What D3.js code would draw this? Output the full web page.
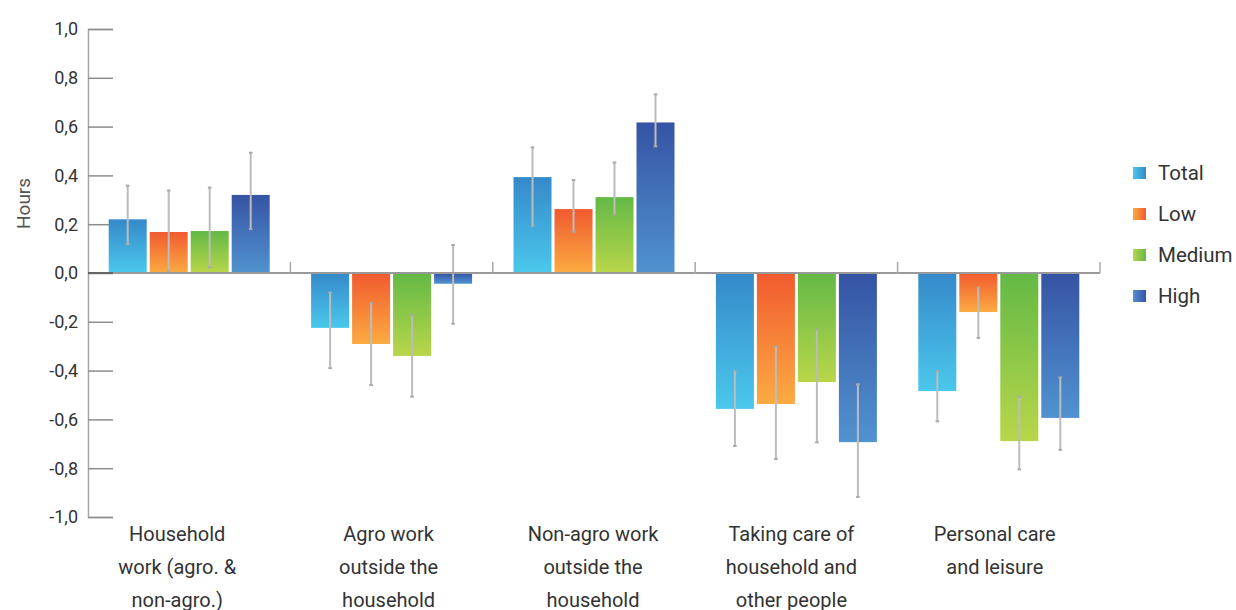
<!DOCTYPE html>
<html>
<head>
<meta charset="utf-8">
<script src="https://cdn.jsdelivr.net/npm/d3@7"></script>
<style>
  html, body { margin: 0; padding: 0; background: #fff; }
  svg { display: block; font-family: Roboto, "Noto Sans", sans-serif; }
</style>
</head>
<body>
<svg id="chart" width="1236" height="610"></svg>
<script>
// Change in hours per activity, by group
const categories = [
  ["Household", "work (agro. &", "non-agro.)"],
  ["Agro work", "outside the", "household"],
  ["Non-agro work", "outside the", "household"],
  ["Taking care of", "household and", "other people"],
  ["Personal care", "and leisure"]
];
const seriesNames = ["Total", "Low", "Medium", "High"];

const totalValues  = [0.22, -0.225, 0.393, -0.557, -0.484];
const lowValues    = [0.168, -0.291, 0.262, -0.537, -0.16];
const mediumValues = [0.172, -0.34, 0.311, -0.447, -0.689];
const highValues   = [0.32, -0.044, 0.617, -0.693, -0.594];

// Confidence interval bounds (lower / upper)
const totalLow   = [0.118, -0.39, 0.193, -0.709, -0.608];
const totalHigh  = [0.358, -0.08, 0.515, -0.402, -0.402];
const lowLow     = [0.009, -0.459, 0.169, -0.762, -0.266];
const lowHigh    = [0.338, -0.124, 0.381, -0.30, -0.06];
const mediumLow  = [0.023, -0.507, 0.24, -0.694, -0.805];
const mediumHigh = [0.35, -0.172, 0.453, -0.232, -0.507];
const highLow    = [0.18, -0.208, 0.519, -0.918, -0.725];
const highHigh   = [0.493, 0.115, 0.732, -0.456, -0.428];

const yTicks = [1.0, 0.8, 0.6, 0.4, 0.2, 0.0, -0.2, -0.4, -0.6, -0.8, -1.0];

const seriesValues = [totalValues, lowValues, mediumValues, highValues];
const seriesLow = [totalLow, lowLow, mediumLow, highLow];
const seriesHigh = [totalHigh, lowHigh, mediumHigh, highHigh];

// Gradient stops: dark end, light end
const gradients = [
  ["#3589c9", "#4bc8ec"],
  ["#f15a2f", "#fbab42"],
  ["#63b946", "#b9d64a"],
  ["#3653a4", "#5093cf"]
];

// Horizontal nudge of each category label from its band centre
const labelShift = [-12, -3, -1, -5, -4];

const svg = d3.select("#chart");
const defs = svg.append("defs");

gradients.forEach((g, i) => {
  const v = defs.append("linearGradient").attr("id", "bar" + i)
    .attr("x1", 0).attr("y1", 0).attr("x2", 0).attr("y2", 1);
  v.append("stop").attr("offset", "0%").attr("stop-color", g[0]);
  v.append("stop").attr("offset", "100%").attr("stop-color", g[1]);
  const h = defs.append("linearGradient").attr("id", "sw" + i)
    .attr("x1", 0).attr("y1", 0).attr("x2", 1).attr("y2", 0);
  h.append("stop").attr("offset", "0%").attr("stop-color", g[1]);
  h.append("stop").attr("offset", "100%").attr("stop-color", g[0]);
});

const plotLeft = 88, plotRight = 1100, plotTop = 29, plotBottom = 517;

const y = d3.scaleLinear().domain([-1, 1]).range([plotBottom, plotTop]);
const x0 = d3.scaleBand().domain(d3.range(categories.length)).range([plotLeft, plotRight]).padding(0);
const x1 = d3.scaleBand().domain(d3.range(seriesNames.length))
  .range([0, x0.bandwidth()]).paddingInner(0.073).paddingOuter(0.505);

// Y axis
const yAxis = d3.axisRight(y).tickValues(yTicks).tickSize(25).tickFormat("");
const yg = svg.append("g").attr("transform", `translate(${plotLeft},0)`).call(yAxis);
yg.select(".domain").attr("stroke", "#a8a8a8").attr("stroke-width", 1.5);
yg.selectAll(".tick line").attr("stroke", "#8c8c8c").attr("stroke-width", 1.5);

const fmt = v => d3.format(".1f")(v).replace(".", ",").replace("−", "-");
svg.append("g").selectAll("text").data(yTicks).join("text")
  .attr("x", 78).attr("y", d => y(d)).attr("dy", "0.35em")
  .attr("text-anchor", "end").attr("font-size", 18).attr("fill", "#333")
  .text(fmt);

svg.append("text")
  .attr("transform", `translate(30,${y(0.285)}) rotate(-90)`)
  .attr("text-anchor", "middle").attr("font-size", 19).attr("fill", "#555")
  .text("Hours");

// Bars
const groups = svg.append("g").selectAll("g").data(categories).join("g")
  .attr("transform", (d, i) => `translate(${x0(i)},0)`);

seriesNames.forEach((s, si) => {
  groups.append("rect")
    .attr("x", (d, i) => x1(si))
    .attr("width", x1.bandwidth())
    .attr("y", (d, i) => y(Math.max(0, seriesValues[si][i])))
    .attr("height", (d, i) => Math.abs(y(seriesValues[si][i]) - y(0)))
    .attr("fill", `url(#bar${si})`);
});

// Zero baseline with group separators
const base = svg.append("g");
base.append("line").attr("x1", plotLeft).attr("x2", plotRight).attr("y1", y(0)).attr("y2", y(0))
  .attr("stroke", "#999").attr("stroke-width", 2);
base.selectAll("line.sep").data(d3.range(1, categories.length + 1)).join("line")
  .attr("class", "sep")
  .attr("x1", i => i < categories.length ? x0(i) : plotRight)
  .attr("x2", i => i < categories.length ? x0(i) : plotRight)
  .attr("y1", y(0)).attr("y2", y(0) - 11)
  .attr("stroke", "#a8a8a8").attr("stroke-width", 1.5);
base.append("line").attr("x1", plotLeft).attr("x2", plotLeft + 25).attr("y1", y(0)).attr("y2", y(0))
  .attr("stroke", "#666").attr("stroke-width", 2);

// Error bars
seriesNames.forEach((s, si) => {
  const eg = groups.append("g");
  const cx = x1(si) + x1.bandwidth() / 2;
  eg.append("line")
    .attr("x1", cx).attr("x2", cx)
    .attr("y1", (d, i) => y(seriesHigh[si][i]))
    .attr("y2", (d, i) => y(seriesLow[si][i]))
    .attr("stroke", "#bcbcbc").attr("stroke-width", 2);
  [seriesHigh, seriesLow].forEach(arr => {
    eg.append("line")
      .attr("x1", cx - 1.8).attr("x2", cx + 1.8)
      .attr("y1", (d, i) => y(arr[si][i]))
      .attr("y2", (d, i) => y(arr[si][i]))
      .attr("stroke", "#aaa").attr("stroke-width", 2);
  });
});

// Category labels
groups.append("text")
  .attr("text-anchor", "middle").attr("font-size", 20).attr("fill", "#333")
  .each(function (d, gi) {
    d3.select(this).selectAll("tspan").data(d).join("tspan")
      .attr("x", x0.bandwidth() / 2 + labelShift[gi])
      .attr("y", (t, i) => 541 + i * 33)
      .text(t => t);
  });

// Legend
const legend = svg.append("g").attr("transform", "translate(1133,173)");
const li = legend.selectAll("g").data(seriesNames).join("g")
  .attr("transform", (d, i) => `translate(0,${i * 41})`);
li.append("rect").attr("x", 0).attr("y", -6).attr("width", 13).attr("height", 12)
  .attr("fill", (d, i) => `url(#sw${i})`);
li.append("text").attr("x", 25).attr("dy", "0.35em")
  .attr("font-size", 20.5).attr("fill", "#333").text(d => d);
</script>
</body>
</html>
